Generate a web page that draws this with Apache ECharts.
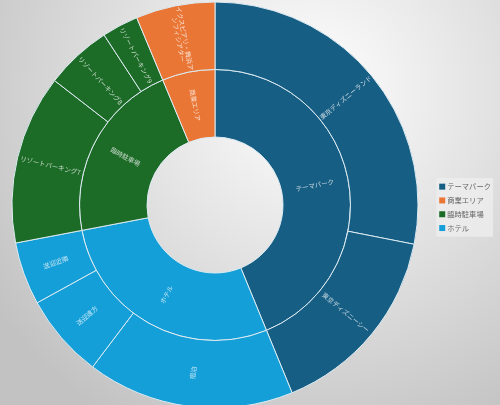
<!DOCTYPE html>
<html>
<head>
<meta charset="utf-8">
<script src="https://cdn.jsdelivr.net/npm/echarts@6/dist/echarts.min.js"></script>
<style>
  html, body { margin: 0; padding: 0; }
  #chart-box { width: 500px; height: 405px; }
</style>
</head>
<body>
<div id="chart-box"></div>
<script>
// top level groups
var groupNames = ["テーマパーク", "商業エリア", "臨時駐車場", "ホテル"];
var groupColors = ["#165e84", "#ea7635", "#1c6b27", "#159fd8"];

// children of each group (same order as groupNames)
var childNames = [
    ["東京ディズニーランド", "東京ディズニーシー"],
    ["イクスピアリ・舞浜アンフィシアター"],
    ["リゾートパーキング7", "リゾートパーキング8", "リゾートパーキング9"],
    ["宿泊", "送迎遠方", "送迎近隣"]
];
var childValues = [
    [28.1, 15.7],
    [6.3],
    [13.5, 5.3, 2.9],
    [16.5, 6.7, 5.0]
];

var sunData = groupNames.map(function (name, i) {
    return {
        name: name,
        itemStyle: { color: groupColors[i] },
        children: childNames[i].map(function (c, j) {
            return { name: c, value: childValues[i][j], itemStyle: { color: groupColors[i] } };
        })
    };
});

var myChart = echarts.init(document.getElementById("chart-box"));
var option = {
    backgroundColor: {
        type: "radial",
        x: 0.62, y: 0.22, r: 0.95,
        colorStops: [
            { offset: 0, color: "#ffffff" },
            { offset: 1, color: "#c2c2c2" }
        ]
    },
    textStyle: { fontFamily: "Noto Sans CJK JP" },
    legend: {
        orient: "vertical",
        right: 7,
        top: 178,
        data: groupNames,
        icon: "rect",
        itemWidth: 6,
        itemHeight: 6,
        itemGap: 6.5,
        padding: [5, 2, 5, 3],
        backgroundColor: "rgba(238,238,238,0.8)",
        textStyle: { fontSize: 7.3, color: "#666", padding: [0, 0, 0, -3] }
    },
    series: [
        {
            // invisible pie only to feed the legend
            type: "pie",
            radius: [0, 0],
            center: [215, 205],
            silent: true,
            label: { show: false },
            labelLine: { show: false },
            data: groupNames.map(function (n, i) {
                return { name: n, value: 1, itemStyle: { color: groupColors[i] } };
            })
        },
        {
            type: "sunburst",
            center: [215, 205],
            radius: [68, 203],
            data: sunData,
            itemStyle: { borderColor: "#dcebf2", borderWidth: 1 },
            label: {
                rotate: "radial",
                fontSize: 6.5,
                color: "rgba(255,255,255,0.75)",
                overflow: "break",
                width: 66
            }
        }
    ]
};
myChart.setOption(option);
</script>
</body>
</html>
